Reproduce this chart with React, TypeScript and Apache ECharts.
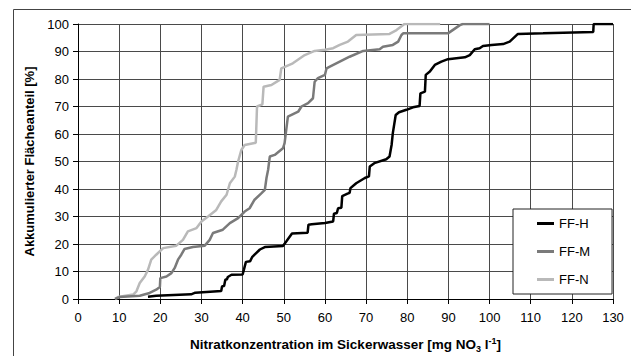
import React, { useEffect, useRef } from "react";
import * as echarts from "echarts";

const seriesNames = ["FF-H", "FF-M", "FF-N"];
const seriesColors = ["#000000", "#7a7a7a", "#b9b9b9"];

const ffH: [number, number][] = [
  [17, 0.8], [19, 1.2], [27.5, 1.7], [28.5, 2.3], [34.8, 2.9], [35, 4.6], [35.5, 4.7],
  [35.8, 7], [36.2, 7.2], [36.4, 8], [37.3, 8.8], [40, 8.9], [40.3, 10.6], [40.8, 13.5],
  [41.8, 13.7], [42.3, 15.2], [42.9, 16.1], [44.2, 18], [45.4, 18.9], [49.8, 19.3],
  [50.6, 20.9], [52, 23.8], [55.8, 24.1], [56, 27], [56.8, 27.2], [60, 27.6], [62, 28.2],
  [62.2, 31], [62.9, 31.3], [63.2, 33], [64, 33.2], [64.2, 37.4], [65.5, 38.3], [66, 38.6],
  [66.2, 40.3], [67.6, 42.1], [69.7, 44], [70.7, 44.6], [70.9, 48.2], [72, 49.4],
  [74.9, 50.8], [75.7, 51.8], [76.2, 56], [76.5, 60.3], [77.2, 66.9], [78, 67.9],
  [79.8, 68.8], [81.4, 69.7], [83, 70.2], [83.2, 74.8], [84.3, 75.4], [84.5, 81.5],
  [85.5, 82.7], [86.7, 85.1], [88.3, 86.3], [89.9, 87.2], [94, 87.9], [95.2, 88.7],
  [96.4, 90.8], [97.6, 91.2], [98.4, 92], [100.5, 92.4], [103.3, 92.7], [104.9, 93.6],
  [106.9, 96.4], [113, 96.6], [125.2, 97.1], [125.3, 100], [130, 100],
];

const ffM: [number, number][] = [
  [9, 0], [10.1, 0.7], [15, 1.2], [17.4, 2.2], [19, 3.4], [19.9, 4.4], [20, 7.6],
  [21.5, 8.2], [22.7, 9.4], [23.5, 11.3], [24.3, 14.3], [25.1, 16.1], [25.9, 18.2],
  [27.9, 18.9], [30.8, 19.4], [32, 21.5], [32.8, 24], [35.2, 25.2], [36.9, 27.6],
  [38.9, 29.4], [40.5, 31.8], [41.7, 33], [42.9, 36.1], [44.6, 38.5], [45.4, 39.7],
  [45.8, 44], [46.2, 47], [46.6, 51.8], [47.8, 52.4], [49.8, 54.8], [50.2, 56.7],
  [51, 66.3], [53.5, 68.1], [54.3, 70], [55.9, 71.2], [57.1, 73], [57.5, 79], [58.3, 80.3],
  [60, 81.5], [60.4, 83.9], [61.2, 84.5], [63.6, 86.3], [66, 88.1], [69.3, 90.2],
  [73.3, 90.8], [74.1, 91.7], [76.5, 92.4], [77.8, 93.6], [78.6, 96], [79, 96.6],
  [89.9, 96.6], [92.8, 99.6], [93.5, 100], [100, 100],
];

const ffN: [number, number][] = [
  [9, 0], [9.7, 0.7], [13.4, 1.6], [14.2, 2.8], [15, 5.8], [16.2, 8.2], [17, 10.6],
  [17.8, 14.3], [19, 16.1], [20.7, 18.5], [23.9, 19.4], [25.5, 21.5], [26.7, 24.6],
  [28.8, 25.8], [30, 28.2], [31.6, 30], [33.6, 32.4], [34.8, 35.5], [36.1, 37.9],
  [36.9, 42.1], [38.1, 44.5], [38.5, 47], [38.9, 50], [39.7, 54.2], [40.5, 56],
  [43.2, 56.8], [43.5, 70], [44.8, 70.8], [45.1, 77.2], [47, 77.8], [49, 79.7],
  [49.4, 83.9], [52.2, 85.7], [55.1, 88.7], [57.5, 90.2], [60, 90.6], [62, 91.2],
  [63.6, 92.4], [65.6, 93.6], [67.6, 96], [75.7, 96.4], [77.4, 97.8], [79, 99.6],
  [79.3, 100], [88, 100],
];

const seriesData = [ffH, ffM, ffN];

const xMin = 0;
const xMax = 130;
const xStep = 10;
const yMin = 0;
const yMax = 100;
const yStep = 10;

const yTitle = "Akkumulierter Flächeanteil [%]";
const xTitle = "{b|Nitratkonzentration im Sickerwasser [mg NO}{sub|3}{b| l}{sup|-1}{b|]}";

export default function App() {
  const ref = useRef<HTMLDivElement>(null);
  useEffect(() => {
    const chart = echarts.init(ref.current!, null, { renderer: "svg" });
    const font = "'Liberation Sans', Arial, sans-serif";
    const gridColor = "#4a4a4a";
    chart.setOption({
      animation: false,
      backgroundColor: "#ffffff",
      textStyle: { fontFamily: font },
      grid: { left: 78, right: 18, top: 24, bottom: 57, containLabel: false, outerBoundsMode: "none" },
      legend: {
        data: seriesNames,
        orient: "vertical",
        left: 513,
        top: 209,
        icon: "rect",
        padding: [8, 22, 8, 24],
        itemWidth: 17,
        itemHeight: 3,
        itemGap: 15,
        itemTextGap: 1,
        backgroundColor: "#ffffff",
        borderColor: "#222",
        borderWidth: 1,
        borderRadius: 0,
        textStyle: { fontFamily: font, fontSize: 13, color: "#000" },
      },
      xAxis: {
        type: "value",
        min: xMin,
        max: xMax,
        interval: xStep,
        name: xTitle,
        nameLocation: "middle",
        nameGap: 37,
        nameTextStyle: {
          rich: {
            b: { fontFamily: font, fontSize: 13.5, fontWeight: "bold", color: "#000", lineHeight: 17, verticalAlign: "middle" },
            sub: { fontFamily: font, fontSize: 9, fontWeight: "bold", color: "#000", lineHeight: 17, verticalAlign: "bottom", padding: [6, 0, 0, 0] },
            sup: { fontFamily: font, fontSize: 9, fontWeight: "bold", color: "#000", lineHeight: 17, verticalAlign: "top", padding: [0, 0, 5, 0] },
          },
        },
        axisLine: { show: true, onZero: false, lineStyle: { color: "#000", width: 1 } },
        axisTick: { show: true, length: 5, lineStyle: { color: "#000" } },
        axisLabel: { color: "#000", fontSize: 13, margin: 12, fontFamily: font },
        splitLine: { show: true, lineStyle: { color: gridColor, width: 1 } },
      },
      yAxis: {
        type: "value",
        min: yMin,
        max: yMax,
        interval: yStep,
        name: yTitle,
        nameLocation: "middle",
        nameGap: 40,
        nameTextStyle: { fontFamily: font, fontSize: 13, fontWeight: "bold", color: "#000" },
        axisLine: { show: true, lineStyle: { color: "#000", width: 1 } },
        axisTick: { show: true, length: 5, lineStyle: { color: "#000" } },
        axisLabel: { color: "#000", fontSize: 13, margin: 9, fontFamily: font },
        splitLine: { show: true, lineStyle: { color: gridColor, width: 1 } },
      },
      graphic: [
        {
          type: "rect",
          silent: true,
          z: -1,
          shape: { x: 13.5, y: 9.5, width: 700, height: 400 },
          style: { fill: "none", stroke: "#444", lineWidth: 1 },
        },
      ],
      series: seriesNames.map((name, i) => ({
        name,
        type: "line",
        data: seriesData[i],
        symbol: "none",
        showSymbol: false,
        smooth: false,
        z: 10 - i,
        color: seriesColors[i],
        lineStyle: { color: seriesColors[i], width: 2.5 },
        itemStyle: { color: seriesColors[i] },
      })),
    });
    return () => chart.dispose();
  }, []);
  return (
    <div
      ref={ref}
      style={{ width: 631, height: 356, position: "absolute", left: 0, top: 0 }}
    />
  );
}
